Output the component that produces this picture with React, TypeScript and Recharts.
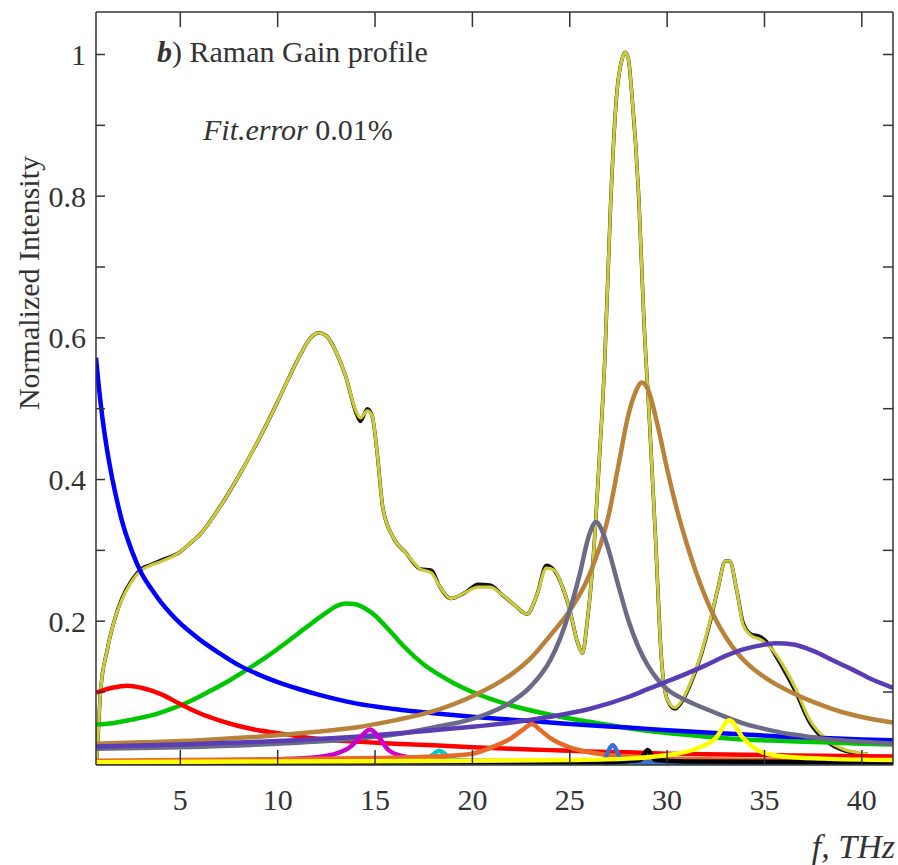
import React from 'react';
import { LineChart, Line, XAxis, YAxis } from 'recharts';

// values: [f (THz), normalized intensity]
const measured = [
  [0.7, 0.0], [0.8, 0.05], [0.9, 0.1], [1.25, 0.16], [1.6, 0.2], [2.0, 0.232], [2.5, 0.258], [3.0, 0.274],
  [3.5, 0.28], [4.0, 0.286], [5.0, 0.298], [5.5, 0.31], [6.0, 0.322], [7.0, 0.36], [8.0, 0.405], [9.0, 0.455],
  [10.0, 0.51], [10.6, 0.545], [11.2, 0.578], [11.7, 0.6], [12.1, 0.607], [12.5, 0.603], [13.0, 0.58],
  [13.5, 0.545], [14.0, 0.496], [14.25, 0.482], [14.6, 0.5], [14.85, 0.49], [15.1, 0.44], [15.4, 0.36],
  [15.9, 0.32], [16.6, 0.296], [17.3, 0.274], [17.9, 0.272], [18.3, 0.25], [18.9, 0.232], [19.6, 0.24],
  [20.3, 0.252], [20.9, 0.251], [21.5, 0.238], [22.2, 0.222], [22.8, 0.21], [23.3, 0.236], [23.8, 0.279],
  [24.2, 0.272], [24.6, 0.25], [25.0, 0.216], [25.4, 0.17], [25.65, 0.155], [25.9, 0.2], [26.2, 0.287],
  [26.5, 0.42], [26.8, 0.57], [27.1, 0.79], [27.4, 0.94], [27.7, 0.995], [27.85, 1.003], [28.0, 0.995],
  [28.2, 0.94], [28.55, 0.795], [28.8, 0.63], [29.1, 0.48], [29.4, 0.32], [29.7, 0.15], [30.0, 0.09],
  [30.4, 0.076], [30.8, 0.088], [31.3, 0.118], [31.7, 0.148], [32.2, 0.198], [32.6, 0.245], [33.0, 0.285],
  [33.2, 0.285], [33.6, 0.24], [33.9, 0.198], [34.3, 0.182], [34.8, 0.178], [35.2, 0.168], [35.6, 0.15],
  [36.1, 0.126], [36.6, 0.1], [37.3, 0.058], [38.2, 0.03], [39.0, 0.018], [39.9, 0.013], [40.3, 0.012],
];

const fitted = [
  [0.7, 0.0], [0.8, 0.05], [0.9, 0.1], [1.25, 0.16], [1.6, 0.2], [2.0, 0.23], [2.5, 0.256], [3.0, 0.272],
  [3.5, 0.279], [4.0, 0.284], [5.0, 0.298], [5.5, 0.31], [6.0, 0.322], [7.0, 0.36], [8.0, 0.405], [9.0, 0.455],
  [10.0, 0.51], [10.6, 0.545], [11.2, 0.578], [11.7, 0.6], [12.1, 0.607], [12.5, 0.603], [13.0, 0.58],
  [13.5, 0.545], [14.0, 0.498], [14.25, 0.487], [14.6, 0.497], [14.85, 0.49], [15.1, 0.44], [15.4, 0.36],
  [15.9, 0.32], [16.6, 0.296], [17.3, 0.274], [17.9, 0.268], [18.3, 0.25], [18.9, 0.232], [19.6, 0.24],
  [20.3, 0.248], [20.9, 0.248], [21.5, 0.238], [22.2, 0.222], [22.8, 0.21], [23.3, 0.236], [23.8, 0.275],
  [24.2, 0.272], [24.6, 0.25], [25.0, 0.216], [25.4, 0.17], [25.65, 0.155], [25.9, 0.2], [26.2, 0.287],
  [26.5, 0.42], [26.8, 0.57], [27.1, 0.79], [27.4, 0.94], [27.7, 0.995], [27.85, 1.003], [28.0, 0.995],
  [28.2, 0.94], [28.55, 0.795], [28.8, 0.63], [29.1, 0.48], [29.4, 0.32], [29.7, 0.15], [30.0, 0.09],
  [30.4, 0.078], [30.8, 0.09], [31.3, 0.12], [31.7, 0.15], [32.2, 0.2], [32.6, 0.245], [33.0, 0.285],
  [33.2, 0.285], [33.6, 0.24], [33.9, 0.195], [34.3, 0.18], [34.8, 0.174], [35.4, 0.16], [36.1, 0.131],
  [36.6, 0.105], [37.3, 0.062], [38.2, 0.033], [39.0, 0.02], [39.9, 0.014], [40.3, 0.012],
];

const blueBand = [
  [0.67, 0.572], [0.8, 0.535], [1.0, 0.487], [1.25, 0.44], [1.5, 0.402], [1.75, 0.37], [2.0, 0.342],
  [2.5, 0.3], [3.0, 0.268], [3.5, 0.246], [4.0, 0.227], [4.5, 0.211], [5.0, 0.197], [5.5, 0.185],
  [6.0, 0.174], [7.0, 0.155], [8.0, 0.138], [9.0, 0.125], [10.0, 0.114], [11.0, 0.105], [12.0, 0.097],
  [13.0, 0.09], [14.0, 0.084], [16.0, 0.076], [18.0, 0.07], [20.0, 0.065], [22.0, 0.061], [24.0, 0.057],
  [26.0, 0.053], [28.0, 0.05], [30.0, 0.046], [32.0, 0.043], [34.0, 0.04], [36.0, 0.037], [38.0, 0.035],
  [40.0, 0.033], [41.6, 0.032],
];

const greenBand = [
  [0.67, 0.054], [1.5, 0.056], [2.5, 0.061], [3.5, 0.067], [4.5, 0.076], [5.5, 0.087], [6.5, 0.101],
  [7.5, 0.116], [8.5, 0.133], [9.5, 0.151], [10.5, 0.171], [11.5, 0.192], [12.5, 0.212], [13.0, 0.221],
  [13.5, 0.225], [14.0, 0.224], [14.5, 0.218], [15.0, 0.208], [15.5, 0.194], [16.0, 0.179], [16.5, 0.164],
  [17.5, 0.139], [18.5, 0.121], [19.0, 0.113], [20.0, 0.1], [22.0, 0.081], [24.0, 0.068], [26.0, 0.058],
  [28.0, 0.049], [30.0, 0.042], [32.0, 0.037], [34.0, 0.033], [36.0, 0.031], [38.0, 0.029], [40.0, 0.027],
  [41.6, 0.026],
];

const redBand = [
  [0.67, 0.099], [1.5, 0.106], [2.3, 0.109], [3.0, 0.106], [4.0, 0.097], [5.0, 0.083], [6.0, 0.07],
  [7.0, 0.06], [8.0, 0.052], [9.0, 0.046], [10.0, 0.042], [12.0, 0.034], [14.0, 0.03], [16.0, 0.027],
  [18.0, 0.025], [20.0, 0.022], [22.0, 0.02], [24.0, 0.018], [26.0, 0.016], [28.0, 0.015], [30.0, 0.013],
  [32.0, 0.012], [35.0, 0.011], [38.0, 0.01], [41.6, 0.009],
];

const brownBand = [
  [0.67, 0.027], [3.0, 0.029], [6.0, 0.032], [9.0, 0.037], [12.0, 0.044], [14.0, 0.05], [16.0, 0.06],
  [18.0, 0.073], [20.0, 0.094], [22.0, 0.125], [23.0, 0.148], [24.0, 0.18], [25.0, 0.215], [26.0, 0.265],
  [27.0, 0.35], [27.5, 0.42], [28.0, 0.49], [28.4, 0.525], [28.7, 0.537], [29.0, 0.528], [29.5, 0.478],
  [30.0, 0.415], [30.5, 0.358], [31.0, 0.31], [31.5, 0.268], [32.0, 0.232], [32.5, 0.202], [33.0, 0.178],
  [33.7, 0.152], [34.5, 0.131], [35.4, 0.114], [36.5, 0.098], [37.5, 0.086], [38.5, 0.076], [39.5, 0.068],
  [40.5, 0.062], [41.6, 0.057],
];

const greyBand = [
  [0.67, 0.02], [5.0, 0.022], [10.0, 0.027], [14.0, 0.034], [16.0, 0.04], [18.0, 0.05], [20.0, 0.062],
  [21.0, 0.072], [22.0, 0.086], [23.0, 0.108], [24.0, 0.145], [24.5, 0.175], [25.0, 0.215], [25.5, 0.265],
  [26.0, 0.322], [26.35, 0.34], [26.7, 0.325], [27.0, 0.3], [27.5, 0.25], [28.0, 0.202], [28.5, 0.165],
  [29.0, 0.138], [29.5, 0.118], [30.0, 0.104], [31.0, 0.088], [32.0, 0.076], [33.0, 0.065], [34.0, 0.055],
  [35.0, 0.048], [36.0, 0.042], [37.0, 0.038], [38.0, 0.034], [40.0, 0.03], [41.6, 0.027],
];

const indigoBand = [
  [0.67, 0.023], [5.0, 0.026], [10.0, 0.031], [14.0, 0.037], [18.0, 0.046], [20.0, 0.051], [22.0, 0.057],
  [24.0, 0.065], [26.0, 0.076], [28.0, 0.093], [29.0, 0.104], [30.0, 0.115], [31.0, 0.126], [32.0, 0.138],
  [33.0, 0.151], [34.0, 0.161], [35.0, 0.167], [35.6, 0.169], [36.5, 0.167], [37.5, 0.158], [38.5, 0.145],
  [39.5, 0.132], [40.5, 0.118], [41.6, 0.106],
];

const magentaBand = [
  [0.67, 0.002], [5.0, 0.003], [8.0, 0.004], [10.0, 0.005], [12.0, 0.008], [13.0, 0.013], [13.7, 0.022],
  [14.2, 0.035], [14.75, 0.047], [15.2, 0.036], [15.7, 0.018], [16.5, 0.009], [18.0, 0.005], [20.0, 0.003],
  [25.0, 0.002], [30.0, 0.001], [41.6, 0.001],
];

const cyanBand = [
  [0.67, 0.0], [15.0, 0.001], [17.0, 0.003], [17.8, 0.008], [18.3, 0.017], [18.8, 0.008], [19.5, 0.003],
  [22.0, 0.001], [41.6, 0.0],
];

const orangeBand = [
  [0.67, 0.003], [5.0, 0.004], [10.0, 0.005], [15.0, 0.007], [18.0, 0.009], [20.0, 0.013], [21.0, 0.022],
  [22.0, 0.035], [22.6, 0.047], [23.05, 0.055], [23.5, 0.046], [24.0, 0.035], [25.0, 0.022], [26.0, 0.015],
  [27.0, 0.011], [29.0, 0.007], [32.0, 0.005], [36.0, 0.004], [41.6, 0.003],
];

const steelBand = [
  [0.67, 0.0], [25.0, 0.001], [26.7, 0.003], [27.2, 0.025], [27.7, 0.003], [29.0, 0.001], [41.6, 0.0],
];

const darkBand = [
  [0.67, 0.0], [27.0, 0.001], [28.6, 0.004], [29.0, 0.018], [29.4, 0.004], [31.0, 0.002], [41.6, 0.001],
];

const yellowBand = [
  [0.67, 0.001], [10.0, 0.002], [20.0, 0.003], [25.0, 0.004], [28.0, 0.006], [30.0, 0.011], [31.5, 0.02],
  [32.5, 0.035], [33.2, 0.06], [33.9, 0.035], [34.8, 0.016], [36.0, 0.009], [38.0, 0.006], [41.6, 0.004],
];

const xTicks = [5, 10, 15, 20, 25, 30, 35, 40];
const yTicks = [0.1, 0.2, 0.3, 0.4, 0.5, 0.6, 0.7, 0.8, 0.9, 1.0];

const toPoints = (arr: number[][]) => arr.map(([x, y]) => ({ x, y }));

const components = [
  { name: 'green', data: greenBand, color: '#00c800' },
  { name: 'blue', data: blueBand, color: '#0000ff' },
  { name: 'red', data: redBand, color: '#ff0000' },
  { name: 'brown', data: brownBand, color: '#b8823a' },
  { name: 'grey', data: greyBand, color: '#6b6b88' },
  { name: 'indigo', data: indigoBand, color: '#5a3cb4' },
  { name: 'magenta', data: magentaBand, color: '#cc00cc' },
  { name: 'cyan', data: cyanBand, color: '#00cccc' },
  { name: 'orange', data: orangeBand, color: '#e86a28' },
  { name: 'steel', data: steelBand, color: '#3c6ed2' },
  { name: 'dark', data: darkBand, color: '#000000' },
  { name: 'yellow', data: yellowBand, color: '#ffff00' },
];

const FONT = '"Liberation Serif", "Times New Roman", serif';
const INK = '#333';

const XTick = ({ x, y, payload }: any) => (
  <text x={x} y={y} textAnchor="middle" fontSize={30} fill={INK} fontFamily={FONT}>
    {payload.value}
  </text>
);

const YTick = ({ x, y, payload }: any) => {
  const v = payload.value;
  if (Math.round(v * 10) % 2 !== 0) return <g />;
  return (
    <text x={x} y={y} dy="0.35em" textAnchor="end" fontSize={30} fill={INK} fontFamily={FONT}>
      {Math.round(v * 10) === 10 ? '1' : v.toFixed(1)}
    </text>
  );
};

const NoTick = () => <g />;

export default function App() {
  return (
    <div style={{ position: 'absolute', left: 0, top: 0, width: 898, height: 865, background: '#fff' }}>
      <LineChart width={898} height={865} margin={{ top: 11, right: 4, bottom: 70, left: 56 }}>
        <XAxis
          xAxisId="b" type="number" dataKey="x" domain={[0.67, 41.6]} allowDataOverflow
          ticks={xTicks} height={30} tickSize={-15} tickMargin={60}
          stroke={INK} strokeWidth={1.5} tick={<XTick />}
        />
        <XAxis
          xAxisId="t" orientation="top" type="number" dataKey="x" domain={[0.67, 41.6]} allowDataOverflow
          ticks={xTicks} height={1} tickSize={-15} stroke={INK} strokeWidth={1.5} tick={<NoTick />}
        />
        <YAxis
          yAxisId="l" type="number" domain={[-0.003, 1.06]} allowDataOverflow
          ticks={yTicks} width={40} tickSize={-9} tickMargin={19}
          stroke={INK} strokeWidth={1.5} tick={<YTick />}
        />
        <YAxis
          yAxisId="r" orientation="right" type="number" domain={[-0.003, 1.06]} allowDataOverflow
          ticks={yTicks} width={1} tickSize={-10} stroke={INK} strokeWidth={1.5} tick={<NoTick />}
        />
        <Line
          xAxisId="b" yAxisId="l" data={toPoints(measured)} dataKey="y" type="monotone"
          stroke="#111" strokeWidth={3.6} dot={false} activeDot={false} isAnimationActive={false}
        />
        <Line
          xAxisId="b" yAxisId="l" data={toPoints(fitted)} dataKey="y" type="monotone"
          stroke="#cccc3a" strokeWidth={3.2} dot={false} activeDot={false} isAnimationActive={false}
        />
        {components.map((c) => (
          <Line
            key={c.name} xAxisId="b" yAxisId="l" data={toPoints(c.data)} dataKey="y" type="monotone"
            stroke={c.color} strokeWidth={4.5} dot={false} activeDot={false} isAnimationActive={false}
          />
        ))}
      </LineChart>
      <svg width={898} height={865} style={{ position: 'absolute', left: 0, top: 0, pointerEvents: 'none' }}>
        <text x={157} y={62} fontSize={30} fill={INK} fontFamily={FONT}>
          <tspan fontWeight="bold" fontStyle="italic">b</tspan>) Raman Gain profile
        </text>
        <text x={203} y={140} fontSize={30} fill={INK} fontFamily={FONT}>
          <tspan fontStyle="italic">Fit.error</tspan> 0.01%
        </text>
        <text x={895} y={858} textAnchor="end" fontSize={34} fontStyle="italic" fill={INK} fontFamily={FONT}>
          f, THz
        </text>
        <text
          x={28} y={283} transform="rotate(-90, 28, 283)" textAnchor="middle" dominantBaseline="central"
          fontSize={30} fill={INK} fontFamily={FONT}
        >
          Normalized Intensity
        </text>
      </svg>
    </div>
  );
}
